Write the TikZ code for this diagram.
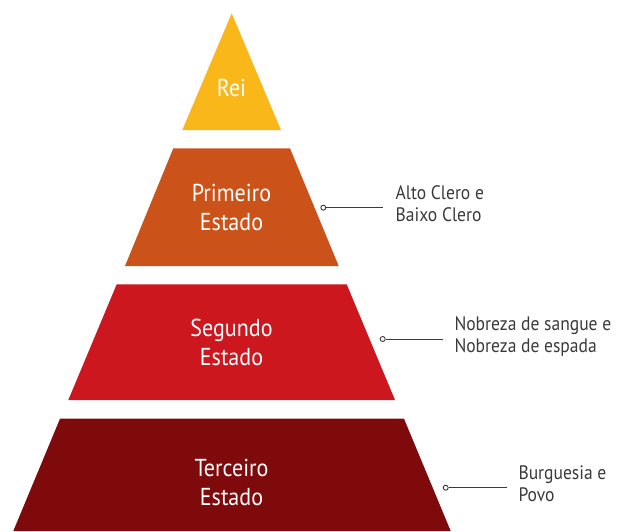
\documentclass[tikz,border=0pt]{standalone}
\usepackage{fontspec}
\setmainfont{PT Sans}[FakeStretch=0.9]
\definecolor{cRei}{HTML}{F9B71A}
\definecolor{cPri}{HTML}{CB5219}
\definecolor{cSeg}{HTML}{CC171F}
\definecolor{cTer}{HTML}{7F0A0C}
\definecolor{cTxt}{HTML}{3A3A3A}
\tikzset{
  tier/.style={text=white, font=\fontsize{24.5}{28.5}\selectfont, align=center, inner sep=0pt},
  lbl/.style={text=cTxt, font=\fontsize{19.5}{22}\selectfont, align=left, inner sep=0pt, anchor=base west},
  dot/.style={circle, draw=cTxt, fill=white, line width=0.9pt, minimum size=5pt, inner sep=0pt},
  lead/.style={draw=cTxt, line width=0.9pt}
}
\begin{document}
\begin{tikzpicture}[x=1pt,y=-1pt]
\useasboundingbox (0,0) rectangle (620,531);
% pyramid
\fill[cRei] (231.7,13.3) -- (281,130) -- (182.3,130) -- cycle;
\fill[cPri] (173.3,148.3) -- (290,148.3) -- (338.7,266) -- (125,266) -- cycle;
\fill[cSeg] (116.7,284.3) -- (346.7,284.3) -- (395,400) -- (68.3,400) -- cycle;
\fill[cTer] (60,418.7) -- (404,418.7) -- (450.7,531) -- (13.3,531) -- cycle;
% tier texts (base = last line)
\node[tier, anchor=base] (rei) at (231.5,96.7) {Rei};
\node[tier, anchor=base] (pri) at (231.5,230) {Primeiro\\Estado};
\node[tier, anchor=base] (seg) at (231.5,365) {Segundo\\Estado};
\node[tier, anchor=base] (ter) at (231.5,505) {Terceiro\\Estado};
% labels (base = last line)
\node[lbl] (l1) at (395.5,221.7) {Alto Clero e\\Baixo Clero};
\node[lbl] (l2) at (454.3,352) {Nobreza de sangue e\\Nobreza de espada};
\node[lbl] (l3) at (518.3,501.7) {Burguesia e\\Povo};
\node[dot] (d1) at (323.3,207.7) {};
\node[dot] (d2) at (382.7,339) {};
\node[dot] (d3) at (445.7,487.7) {};
\coordinate (e1) at (383.3,207.7);
\coordinate (e2) at (443.3,339);
\coordinate (e3) at (507.3,487.7);
\draw[lead] (d1) -- (e1);
\draw[lead] (d2) -- (e2);
\draw[lead] (d3) -- (e3);
\end{tikzpicture}
\end{document}
